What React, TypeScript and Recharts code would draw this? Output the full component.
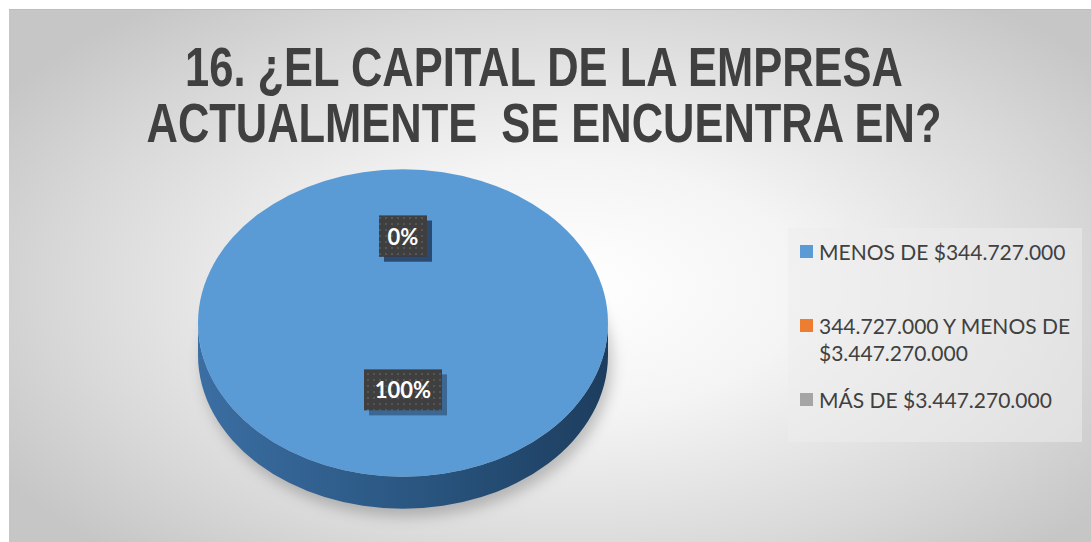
import { PieChart, Pie, Cell, Legend } from "recharts";

const categories = [
  "MENOS DE $344.727.000",
  "344.727.000 Y MENOS DE $3.447.270.000",
  "MÁS DE $3.447.270.000",
];
const values = [100, 0, 0];
const colors = ["#5b9bd5", "#ed7d31", "#a5a5a5"];

const titleLines = ["16. ¿EL CAPITAL DE LA EMPRESA", "ACTUALMENTE  SE ENCUENTRA EN?"];

const data = categories.map((name, i) => ({ name, value: values[i] }));

// vertical squash of the pie to fake the tilted 3D look
const TILT = 0.75;
const DEPTH = 32;
const RAD = Math.PI / 180;

function pt(cx: number, cy: number, rx: number, ry: number, a: number) {
  return [cx + rx * Math.cos(a * RAD), cy - ry * Math.sin(a * RAD)];
}

function TiltedSector(props: any) {
  const { cx, cy, outerRadius, startAngle, endAngle, fill } = props;
  const span = Math.abs(endAngle - startAngle);
  if (span < 0.01) return null;
  const rx = outerRadius;
  const ry = outerRadius * TILT;
  const lo = Math.min(startAngle, endAngle);
  const hi = Math.max(startAngle, endAngle);

  // side wall: only the part of the arc that faces the viewer (lower half)
  const sides: string[] = [];
  for (let k = -2; k <= 2; k++) {
    const a1 = Math.max(lo, -180 + 360 * k);
    const a2 = Math.min(hi, 360 * k);
    if (a2 - a1 <= 0.01) continue;
    const [x1, y1] = pt(cx, cy, rx, ry, a1);
    const [x2, y2] = pt(cx, cy, rx, ry, a2);
    const large = a2 - a1 > 180 ? 1 : 0;
    sides.push(
      `M${x1},${y1} A${rx},${ry} 0 ${large} 0 ${x2},${y2} L${x2},${y2 + DEPTH} A${rx},${ry} 0 ${large} 1 ${x1},${y1 + DEPTH} Z`
    );
  }

  let top: string;
  if (span >= 359.99) {
    top = `M${cx - rx},${cy} A${rx},${ry} 0 1 0 ${cx + rx},${cy} A${rx},${ry} 0 1 0 ${cx - rx},${cy} Z`;
  } else {
    const [sx, sy] = pt(cx, cy, rx, ry, startAngle);
    const [ex, ey] = pt(cx, cy, rx, ry, endAngle);
    const large = span > 180 ? 1 : 0;
    const sweep = endAngle < startAngle ? 1 : 0;
    top = `M${cx},${cy} L${sx},${sy} A${rx},${ry} 0 ${large} ${sweep} ${ex},${ey} Z`;
  }

  return (
    <g>
      <defs>
        <linearGradient id="sideGrad" x1="0" y1="0" x2="1" y2="0">
          <stop offset="0%" stopColor="#3b6ea3" />
          <stop offset="55%" stopColor="#29557f" />
          <stop offset="100%" stopColor="#1d3d5e" />
        </linearGradient>
        <filter id="pieShadow" x="-20%" y="-20%" width="140%" height="160%">
          <feGaussianBlur stdDeviation="7" />
        </filter>
      </defs>
      <ellipse cx={cx + 4} cy={cy + DEPTH + 8} rx={rx} ry={ry} fill="rgba(0,0,0,0.22)" filter="url(#pieShadow)" />
      {sides.map((d, i) => (
        <path key={i} d={d} fill="url(#sideGrad)" />
      ))}
      <path d={top} fill={fill} />
    </g>
  );
}

function renderLabel(props: any) {
  const { cx, cy, midAngle, outerRadius, percent, index } = props;
  const r = outerRadius * 0.5;
  const x = cx + r * Math.cos(midAngle * RAD);
  const y = cy - r * TILT * Math.sin(midAngle * RAD) - 10;
  const text = `${Math.round(percent * 100)}%`;
  const w = text.length * 15 + 18;
  const h = 41;
  return (
    <g key={`lbl-${index}`}>
      <defs>
        <pattern id="dots" width="6" height="6" patternUnits="userSpaceOnUse">
          <rect width="6" height="6" fill="#3f3f3f" />
          <rect x="1" y="1" width="2" height="2" fill="#555555" />
        </pattern>
      </defs>
      <rect x={x - w / 2 + 5} y={y - h / 2 + 5} width={w} height={h} fill="rgba(20,40,70,0.45)" />
      <rect x={x - w / 2} y={y - h / 2} width={w} height={h} fill="url(#dots)" />
      <text
        x={x}
        y={y}
        textAnchor="middle"
        dominantBaseline="central"
        fill="#ffffff"
        fontFamily="Lato, 'Open Sans', sans-serif"
        fontWeight={700}
        fontSize={22}
      >
        {text}
      </text>
    </g>
  );
}

function LegendBox({ payload }: any) {
  const gaps = [0, 47, 20];
  const items = categories.map((c) => (payload || []).find((p: any) => p.value === c)).filter(Boolean);
  return (
    <div style={{ width: 275, fontFamily: "Lato, 'Open Sans', sans-serif", fontSize: 21, color: "#404040", lineHeight: "27px" }}>
      {items.map((p: any, i: number) => (
        <div key={i} style={{ display: "flex", alignItems: "flex-start", marginTop: gaps[i] }}>
          <span style={{ width: 13, height: 13, background: p.color, marginTop: 7, marginRight: 6, flexShrink: 0 }} />
          <span style={{ width: 256 }}>{p.value}</span>
        </div>
      ))}
    </div>
  );
}

export default function App() {
  return (
    <div style={{ position: "relative", width: 1091, height: 542, background: "#ffffff", overflow: "hidden" }}>
      <style>{`body{margin:0;overflow:hidden}`}</style>
      <div
        style={{
          position: "absolute",
          left: 9,
          top: 9,
          width: 1082,
          height: 533,
          background: "radial-gradient(ellipse 62% 68% at 52% 52%, #ffffff 0%, #f4f4f4 35%, #d9d9d9 75%, #c6c6c6 100%)",
          borderTop: "1px solid #bdbdbd",
        }}
      />
      <div
        style={{
          position: "absolute",
          left: 788,
          top: 228,
          width: 294,
          height: 214,
          background: "rgba(236,236,236,0.55)",
        }}
      />
      <div
        style={{
          position: "absolute",
          left: 9,
          top: 39,
          width: 1070,
          textAlign: "center",
          fontFamily: "'Liberation Sans Narrow', 'Arial Narrow', 'Liberation Sans', sans-serif",
          fontWeight: 700,
          fontSize: 55,
          lineHeight: "56px",
          color: "#404040",
          whiteSpace: "pre",
          transform: "scaleX(0.79)",
          transformOrigin: "535px 0",
        }}
      >
        {titleLines.map((t, i) => (
          <div key={i}>{t}</div>
        ))}
      </div>
      <div style={{ position: "absolute", left: 0, top: 0 }}>
        <PieChart width={1091} height={542}>
          <Pie
            data={data}
            dataKey="value"
            nameKey="name"
            cx={398}
            cy={318}
            outerRadius={205}
            startAngle={90}
            endAngle={-270}
            stroke="none"
            shape={TiltedSector}
            label={renderLabel}
            labelLine={false}
            isAnimationActive={false}
          >
            {data.map((d, i) => (
              <Cell key={d.name} fill={colors[i]} />
            ))}
          </Pie>
          <Legend
            layout="vertical"
            content={<LegendBox />}
            wrapperStyle={{ position: "absolute", left: 800, top: 238, width: 280 }}
          />
        </PieChart>
      </div>
    </div>
  );
}
